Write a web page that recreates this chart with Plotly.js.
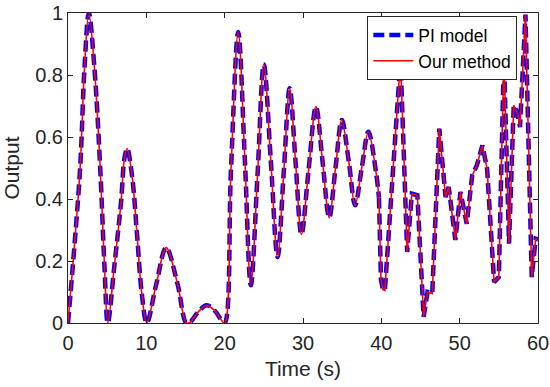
<!DOCTYPE html>
<html>
<head>
<meta charset="utf-8">
<script src="https://cdn.plot.ly/plotly-3.0.1.min.js"></script>
<style>html,body{margin:0;padding:0;background:#fff;}#chart{width:550px;height:387px;}</style>
</head>
<body>
<div id="chart"></div>
<script>
// Smooth part of the response (0 - 39.7 s)
const timeSmooth = [0, 0.6, 1.55, 2.1, 2.66, 3.38, 4.11, 4.66, 5.08, 5.9, 6.77, 7.2, 7.55, 8.2, 8.8, 9.4, 10.06,
  11.26, 12.53, 14.0, 15.1, 15.6, 16.6, 17.7, 18.8, 19.5, 20.0,
  20.8, 21.73, 22.57, 23.34, 24.2, 25.0, 25.9, 26.75, 27.55, 28.3, 29.05, 29.8, 30.7, 31.65, 32.5, 33.35,
  34.15, 34.95, 35.85, 36.65, 37.5, 38.35, 39.3, 39.7];
const piSmooth = [0, 0.18, 0.5, 0.82, 1.0, 0.82, 0.5, 0.18, 0, 0.18, 0.39, 0.53, 0.563, 0.47, 0.29, 0.1, 0,
  0.124, 0.243, 0.124, 0, 0.003, 0.035, 0.057, 0.038, 0.012, 0,
  0.49, 0.939, 0.53, 0.122, 0.48, 0.834, 0.52, 0.213, 0.49, 0.757, 0.52, 0.286, 0.49, 0.698, 0.52, 0.34,
  0.5, 0.655, 0.52, 0.38, 0.5, 0.617, 0.49, 0.405];
const ourSmooth = [0, 0.18, 0.5, 0.82, 1.0, 0.82, 0.5, 0.18, 0, 0.18, 0.39, 0.53, 0.563, 0.47, 0.29, 0.1, 0,
  0.124, 0.243, 0.124, 0, 0.003, 0.035, 0.057, 0.038, 0.012, 0,
  0.49, 0.939, 0.53, 0.122, 0.48, 0.834, 0.52, 0.213, 0.49, 0.757, 0.52, 0.286, 0.49, 0.698, 0.52, 0.34,
  0.5, 0.655, 0.52, 0.38, 0.5, 0.617, 0.49, 0.405];

// Sharp part of the response (39.7 - 60 s)
const timeSharp = [39.7, 39.95, 40.2, 40.45, 42.45, 43.3, 43.9, 44.6, 45.4, 45.9, 46.5, 47.4, 48.2, 48.6, 49.45,
  50.1, 50.9, 51.6, 52.2, 52.9, 53.5, 54.4, 55.0, 55.65, 56.3, 56.9, 57.35, 57.7, 58.4, 59.2, 59.7, 60];
const piSharp = [0.405, 0.14, 0.108, 0.105, 0.85, 0.229, 0.417, 0.412, 0.02, 0.1, 0.095, 0.627, 0.406, 0.439, 0.268,
  0.423, 0.32, 0.476, 0.509, 0.573, 0.498, 0.132, 0.148, 0.86, 0.256, 0.702, 0.68, 0.632, 0.995, 0.148, 0.272, 0.27];
const ourSharp = [0.405, 0.14, 0.108, 0.105, 0.85, 0.229, 0.417, 0.412, 0.02, 0.1, 0.095, 0.627, 0.406, 0.439, 0.268,
  0.423, 0.32, 0.476, 0.509, 0.573, 0.498, 0.132, 0.148, 0.86, 0.256, 0.702, 0.68, 0.632, 0.995, 0.148, 0.272, 0.27];

const xTicks = [0, 10, 20, 30, 40, 50, 60];
const yTicks = [0, 0.2, 0.4, 0.6, 0.8, 1];
const yTickText = ['0', '0.2', '0.4', '0.6', '0.8', '1'];

const FONT = 'Liberation Sans, Arial, Helvetica, sans-serif';
const INK = '#262626';

const blueLine = {color: '#0000ff', width: 4.5, dash: '11px,5px'};
const redLine = {color: '#ff0000', width: 1.6};

const traces = [
  {x: timeSmooth, y: piSmooth, type: 'scatter', mode: 'lines', name: 'PI model', legendgroup: 'pi',
   line: Object.assign({shape: 'spline', smoothing: 1}, blueLine)},
  {x: timeSharp, y: piSharp, type: 'scatter', mode: 'lines', name: 'PI model', legendgroup: 'pi', showlegend: false,
   line: Object.assign({shape: 'linear'}, blueLine)},
  {x: timeSmooth, y: ourSmooth, type: 'scatter', mode: 'lines', name: 'Our method', legendgroup: 'our',
   line: Object.assign({shape: 'spline', smoothing: 1}, redLine)},
  {x: timeSharp, y: ourSharp, type: 'scatter', mode: 'lines', name: 'Our method', legendgroup: 'our', showlegend: false,
   line: Object.assign({shape: 'linear'}, redLine)}
];

const axisCommon = {
  showline: true, linecolor: INK, linewidth: 1, mirror: 'ticks',
  ticks: 'inside', ticklen: 5, tickcolor: INK, tickwidth: 1,
  showgrid: false, zeroline: false,
  tickfont: {family: FONT, size: 20, color: INK}
};

const layout = {
  width: 550, height: 387,
  margin: {l: 68, r: 12, t: 13, b: 64},
  paper_bgcolor: '#ffffff', plot_bgcolor: '#ffffff',
  font: {family: FONT, color: INK},
  xaxis: Object.assign({}, axisCommon, {
    range: [0, 60], tickmode: 'array', tickvals: xTicks, ticklabelstandoff: 2,
    title: {text: 'Time (s)', font: {family: FONT, size: 21, color: INK}, standoff: 8}
  }),
  yaxis: Object.assign({}, axisCommon, {
    range: [0, 1], tickmode: 'array', tickvals: yTicks, ticktext: yTickText,
    title: {text: 'Output', font: {family: FONT, size: 21, color: INK}, standoff: 11}
  }),
  legend: {
    x: 0.956, xanchor: 'right', y: 0.99, yanchor: 'top',
    bgcolor: '#ffffff', bordercolor: INK, borderwidth: 1,
    font: {family: FONT, size: 17.5, color: '#000000'},
    itemwidth: 40,
    tracegroupgap: 0
  },
  showlegend: true
};

Plotly.newPlot('chart', traces, layout, {displayModeBar: false, staticPlot: true});
</script>
</body>
</html>
